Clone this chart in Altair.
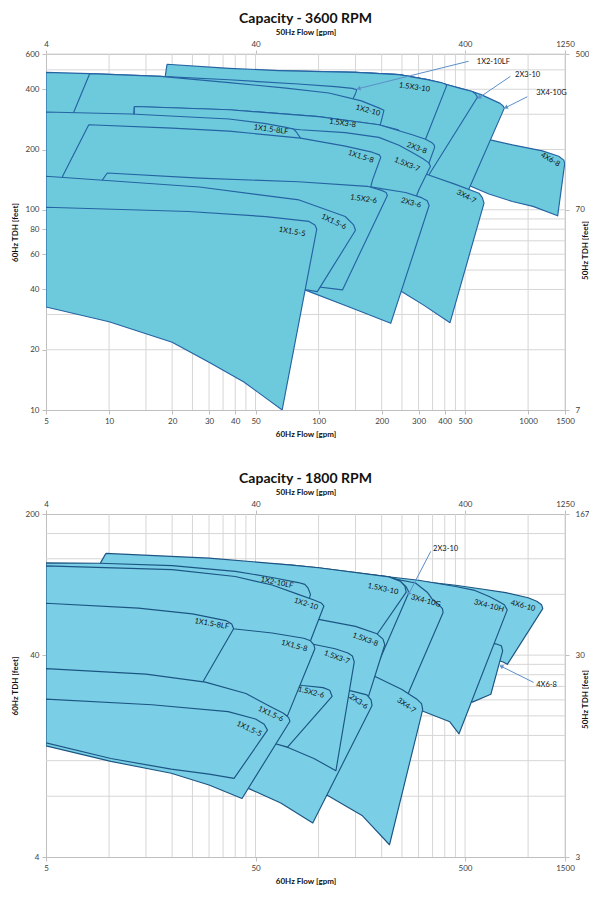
import altair as alt
import pandas as pd

# ---------------- axes, ticks and grid ----------------
X_DOMAIN = [5, 1500]
Y_DOMAIN_TOP = [10, 600]
Y_DOMAIN_BOT = [4, 200]

X_TICKS_TOP = [5, 10, 20, 30, 40, 50, 100, 200, 300, 400, 500, 1000, 1500]
X_TICKS_BOT = [5, 50, 500, 1500]
X2_TICK_POS = [5, 50, 500, 1500]
X2_TICK_LBL = ["4", "40", "400", "1250"]
Y_TICKS_TOP = [10, 20, 40, 60, 80, 100, 200, 400, 600]
Y_TICKS_BOT = [4, 40, 200]
Y2_TICK_POS_TOP = [10, 100, 600]
Y2_TICK_LBL_TOP = ["7", "70", "500"]
Y2_TICK_POS_BOT = [4, 40, 200]
Y2_TICK_LBL_BOT = ["3", "30", "167"]
XGRID = [10, 15, 20, 25, 30, 35, 40, 45, 50, 100, 150, 200, 250, 300, 350, 400, 450, 500, 1000, 1500]
YGRID_TOP = [20, 30, 40, 50, 60, 70, 80, 90, 100, 200, 300, 400, 500, 600]
YGRID_BOT = [8, 12, 16, 20, 24, 28, 32, 36, 40, 80, 120, 160]

# ---------------- 3600 RPM coverage areas (flow gpm, head ft) ----------------
T_4X6_8 = [(420, 240), (652, 224), (841, 211), (1170, 197), (1400, 185), (1480, 177), (1495, 170),
           (1384, 93.3), (1056, 104), (841, 110), (650, 120), (532, 131), (470, 145), (420, 160)]
T_3X4_10G = [(60, 490), (150, 486), (242, 473), (330, 447), (404, 424), (480, 403), (542, 390), (600, 375),
             (672, 355), (735, 340), (760, 330), (770, 322), (532, 133), (500, 115), (400, 120), (250, 140),
             (120, 190), (60, 215)]
T_2X3_10 = [(30, 500), (64.7, 496), (150, 486), (242, 473), (330, 447), (404, 424), (480, 403), (542, 390),
            (560, 380), (573, 365), (337, 150), (320, 135), (200, 160), (100, 190), (30, 220)]
T_3X4_7 = [(120, 192), (200, 176), (330, 150), (450, 134), (583, 121), (605, 115), (616, 108),
           (424, 27.3), (316, 33.5), (250, 39), (150, 47), (120, 50)]
T_1_5X3_10 = [(18.9, 533), (37.4, 509), (64.7, 496), (150, 486), (242, 473), (330, 447), (385, 432), (404, 424),
              (408, 418), (406, 410), (322, 222), (250, 240), (100, 280), (17.6, 320)]
T_1X2_10LF = [(5, 486), (8.09, 479), (17.6, 464), (37.4, 446), (80, 425), (120, 412), (145, 404), (152, 398),
              (151, 388), (149, 374), (140, 330), (60, 320), (20, 312), (5, 300)]
T_1X2_10 = [(8.09, 479), (17.6, 464), (37.4, 432), (70, 405), (112, 383), (160, 350), (195, 322), (205, 314),
            (198, 271), (190, 240), (100, 255), (30, 275), (6.68, 296)]
T_1_5X3_8 = [(13.2, 328), (37.4, 316), (100, 292), (194, 266), (240, 251), (245, 245), (210, 175), (100, 185),
             (30, 195), (12.7, 200)]
T_2X3_8 = [(13.2, 328), (37.4, 316), (100, 292), (194, 266), (280, 237), (324, 225), (348, 216), (356, 211),
           (358, 205), (332, 165), (300, 150), (200, 150), (100, 160), (13.2, 170)]
T_1_5X3_7 = [(40, 270), (82, 251), (134, 243), (194, 230), (242, 210), (280, 193), (315, 180), (335, 172),
             (342, 165), (301, 126), (230, 60), (150, 70), (80, 90), (40, 100)]
T_2X3_6 = [(30, 138), (100, 134), (171, 131), (260, 122), (310, 115), (330, 111), (337, 105), (221, 27.1),
           (140, 32.7), (86, 39.8), (50, 46), (30, 52)]
T_1X1_5_8LF = [(5, 308), (12.7, 301), (37.4, 284), (55, 270), (70, 258), (76, 253), (78, 246), (82, 228),
               (72, 150), (20, 148), (5, 140)]
T_1X1_5_8 = [(8, 266), (20, 256), (37.4, 247), (82, 228), (134, 208), (180, 194), (195, 188), (198, 183),
             (181, 141), (170, 110), (100, 100), (30, 110), (6, 120), (6, 147)]
T_1_5X2_6 = [(9.8, 152.6), (27, 144), (80, 138), (171, 131), (200, 125), (210, 122), (213, 118), (130, 39.8),
             (86, 42), (30, 55), (9.3, 65), (9.3, 141)]
T_1X1_5_6 = [(5, 147), (27, 130), (80.7, 112), (134, 92.6), (147, 84), (150, 79), (98.6, 39), (86, 40),
             (50, 46), (20, 55), (5, 62)]
T_1X1_5_5 = [(5, 103), (24, 98), (56, 92.5), (90, 87.5), (96, 84), (98, 80), (67, 10), (56.5, 11.4),
             (44, 13.8), (30, 17.3), (20, 21.8), (10, 27.6), (5, 32.7)]

TOP_REGIONS = [("4X6-8", T_4X6_8), ("3X4-10G", T_3X4_10G), ("2X3-10", T_2X3_10), ("3X4-7", T_3X4_7),
               ("1.5X3-10", T_1_5X3_10), ("1X2-10LF", T_1X2_10LF), ("1X2-10", T_1X2_10),
               ("1.5X3-8", T_1_5X3_8), ("2X3-8", T_2X3_8), ("1.5X3-7", T_1_5X3_7), ("2X3-6", T_2X3_6),
               ("1X1.5-8LF", T_1X1_5_8LF), ("1X1.5-8", T_1X1_5_8), ("1.5X2-6", T_1_5X2_6),
               ("1X1.5-6", T_1X1_5_6), ("1X1.5-5", T_1X1_5_5)]

TOP_LBL = ["1.5X3-10", "1X2-10", "1.5X3-8", "2X3-8", "1X1.5-8LF", "1X1.5-8", "1.5X3-7", "3X4-7", "4X6-8",
           "1.5X2-6", "2X3-6", "1X1.5-6", "1X1.5-5"]
TOP_LBL_FLOW = [287, 172, 130, 294, 59.3, 159, 264, 506, 1276, 164, 276, 118, 74.7]
TOP_LBL_HEAD = [408, 313, 270, 203, 251, 184, 168, 116, 178, 113, 108, 87, 77.6]
TOP_LBL_ANGLE = [8, 15, 8, 20, 8, 18, 22, 28, 30, 8, 15, 25, 10]

TOP_CALL = ["1X2-10LF", "2X3-10", "3X4-10G"]
TOP_CALL_TX_FLOW = [569, 867, 1093]
TOP_CALL_TX_HEAD = [549, 473, 383]
TOP_CALL_FROM_FLOW = [520, 823, 991]
TOP_CALL_FROM_HEAD = [552, 464, 367]
TOP_CALL_TIP_FLOW = [155, 583, 782]
TOP_CALL_TIP_HEAD = [403, 363, 324]
TOP_CALL_ANGLE = [256, 236, 244]

# ---------------- 1800 RPM coverage areas (flow gpm, head ft) ----------------
B_4X6_10 = [(300, 93), (451, 88.7), (600, 85), (782, 81.6), (1000, 77), (1100, 74), (1160, 71), (1175, 68),
            (796, 36), (760, 37), (600, 40), (400, 45), (300, 48)]
B_4X6_8 = [(300, 52), (500, 48), (700, 45.5), (745, 44.5), (756, 42), (664, 25.6), (542, 23.4), (400, 26),
           (300, 29)]
B_3X4_10H = [(150, 102), (300, 94), (451, 87.5), (550, 84), (652, 78), (720, 74), (770, 71), (795, 67),
             (468, 16.3), (423, 18.7), (300, 21.5), (200, 24), (150, 26)]
B_3X4_10G = [(120, 104), (217, 96.5), (290, 91), (330, 82), (348, 76), (375, 71), (390, 68), (393, 65),
             (275, 27.6), (260, 24), (200, 26), (120, 30)]
B_3X4_7 = [(90, 40), (150, 35), (184, 31.5), (250, 27), (296, 24.1), (310, 23), (314, 21.5), (218, 4.6),
           (162, 6.4), (110, 8.1), (90, 9)]
B_2X3_10 = [(30, 118), (72.5, 112), (100, 108.4), (217, 97.6), (245, 93), (262, 87), (270, 82), (165, 25.2),
            (120, 27), (50, 30), (30, 32)]
B_1_5X3_10 = [(9.66, 127.6), (30, 121), (72.5, 112), (100, 108.4), (217, 97.6), (245, 93), (258, 88),
              (262, 82), (190.6, 50.9), (175, 45), (100, 58), (30, 70), (9.1, 75), (9.1, 114.5)]
B_1_5X3_8 = [(30, 68), (100, 60.1), (150, 55.5), (190, 51), (203, 48), (207, 45), (172, 24.5), (120, 22),
             (60, 30), (30, 40)]
B_1X2_10LF = [(5, 114.5), (9, 114), (20, 111), (40, 104), (60, 97), (80, 91.5), (86, 89.6), (89, 86),
              (91.5, 80), (88, 70), (40, 75), (5, 78)]
B_1X2_10 = [(5, 110.6), (20, 106), (40, 98), (60, 89), (80, 80), (95, 75), (103, 72.5), (106, 70),
            (91.5, 47.1), (85, 40), (40, 50), (5, 55)]
B_2X3_6 = [(20, 33), (80, 29), (143, 26.6), (170, 25.4), (178, 24), (180, 22.5), (93.8, 5.9), (66, 7.4),
           (46.8, 8.7), (30, 10), (20, 11.2)]
B_1_5X3_7 = [(40, 52), (93, 45.4), (120, 43), (138, 41), (145, 39.6), (148, 37), (121, 10.7), (95, 12.3),
             (71, 14), (50, 16), (40, 17)]
B_1_5X2_6 = [(20, 33), (60, 30), (84, 28.3), (105, 27.6), (113, 26.8), (116, 25), (71.1, 14), (50, 15.5),
             (20, 17)]
B_1X1_5_8 = [(5, 69), (20, 63), (36, 57), (39, 54), (60, 51.5), (85, 48.5), (91.5, 47.1), (95, 45), (96, 43),
             (71, 20), (50, 22), (5, 26)]
B_1X1_5_8LF = [(5, 72.3), (13.8, 68.4), (25, 64), (36.1, 59.3), (38.5, 57), (39.3, 54), (27.4, 28.3),
               (25, 25), (5, 28)]
B_1X1_5_6 = [(5, 34.3), (15, 32.2), (28.8, 29.4), (45, 25.8), (60, 22), (68, 20.6), (72, 19.6), (73, 18.8),
             (43.1, 7.8), (30, 9.1), (19.8, 10.4), (10.2, 11.9), (5, 14.2)]
B_1X1_5_5 = [(5, 24.2), (16, 22.7), (37, 21), (50, 19.3), (55, 18.2), (57, 17), (39.5, 9.8), (30, 10.3),
             (19.8, 10.9), (10.2, 12.3), (5, 14.7)]

BOT_REGIONS = [("4X6-10", B_4X6_10), ("4X6-8", B_4X6_8), ("3X4-10H", B_3X4_10H), ("3X4-10G", B_3X4_10G),
               ("3X4-7", B_3X4_7), ("2X3-10", B_2X3_10), ("1.5X3-10", B_1_5X3_10), ("1.5X3-8", B_1_5X3_8),
               ("1X2-10LF", B_1X2_10LF), ("1X2-10", B_1X2_10), ("2X3-6", B_2X3_6), ("1.5X3-7", B_1_5X3_7),
               ("1.5X2-6", B_1_5X2_6), ("1X1.5-8", B_1X1_5_8), ("1X1.5-8LF", B_1X1_5_8LF),
               ("1X1.5-6", B_1X1_5_6), ("1X1.5-5", B_1X1_5_5)]

BOT_LBL = ["1X2-10LF", "1X2-10", "1X1.5-8LF", "1X1.5-8", "1X1.5-6", "1X1.5-5", "1.5X2-6", "2X3-6", "3X4-7",
           "1.5X3-7", "1.5X3-8", "1.5X3-10", "3X4-10G", "3X4-10H", "4X6-10"]
BOT_LBL_FLOW = [63.3, 87, 30.9, 76.5, 59, 46.6, 92, 155, 262, 122, 167, 203, 325, 650, 945]
BOT_LBL_HEAD = [91.3, 71.5, 57, 44.4, 20.4, 17.2, 26.1, 23.5, 22.5, 38.9, 47.7, 84.9, 74.1, 70, 70]
BOT_LBL_ANGLE = [12, 18, 10, 15, 25, 25, 15, 35, 35, 20, 20, 12, 15, 15, 15]

BOT_CALL = ["2X3-10", "4X6-8"]
BOT_CALL_TX_FLOW = [352, 1093]
BOT_CALL_TX_HEAD = [133.9, 28.3]
BOT_CALL_FROM_FLOW = [343, 1062]
BOT_CALL_FROM_HEAD = [130.6, 29.3]
BOT_CALL_TIP_FLOW = [269, 744]
BOT_CALL_TIP_HEAD = [80.3, 35.2]
BOT_CALL_ANGLE = [205, 298]

# ---------------- style ----------------
FONT = "Lato"
GRID = "#D6D6D6"
AXIS_GRAY = "#BFBFBF"
ARROW = "#5B8FC9"
TEXT = "#111111"


def label_expr(pos, lbl):
    e = "''"
    for p, l in reversed(list(zip(pos, lbl))):
        e = f"round(datum.value) == {p} ? '{l}' : ({e})"
    return e


def axis(**kw):
    base = dict(labelFont=FONT, labelFontSize=8, labelColor="#404040", titleFont=FONT, titleFontSize=8,
                titleFontWeight="bold", titleColor=TEXT, domainColor=AXIS_GRAY, tickColor=AXIS_GRAY,
                tickSize=4, grid=False, labelFlush=False, labelOverlap=False)
    base.update(kw)
    return alt.Axis(**base)


def panel(title, ydom, xticks, yticks, y2pos, y2lbl, ygrid, regions, lbls, lflow, lhead, lang,
          calls, ctxf, ctxh, cff, cfh, ctf, cth, cang, fill, stroke, height, rtitle_y):
    xs = alt.Scale(type="log", domain=X_DOMAIN, nice=False)
    ys = alt.Scale(type="log", domain=ydom, nice=False)

    vgrid = alt.Chart(pd.DataFrame({"v": XGRID})).mark_rule(color=GRID, strokeWidth=1).encode(
        x=alt.X("v:Q", scale=xs, axis=axis(orient="bottom", values=xticks, format="d",
                                           title="60Hz Flow [gpm]", labelPadding=3, titlePadding=5)))
    hgrid = alt.Chart(pd.DataFrame({"v": ygrid})).mark_rule(color=GRID, strokeWidth=1).encode(
        y=alt.Y("v:Q", scale=ys, axis=axis(orient="left", values=yticks, format="d",
                                           title="60Hz TDH [feet]", labelPadding=3, titlePadding=6)))
    layers = [vgrid, hgrid]

    for name, pts in regions:
        closed = pts + [pts[0]]
        df = pd.DataFrame({"flow": [p[0] for p in closed], "head": [p[1] for p in closed],
                           "i": list(range(len(closed))), "region": name})
        layers.append(
            alt.Chart(df).mark_line(fill=fill, stroke=stroke, strokeWidth=1.15, clip=True,
                                    strokeJoin="round", interpolate="linear").encode(
                x=alt.X("flow:Q", scale=xs, axis=None),
                y=alt.Y("head:Q", scale=ys, axis=None),
                order="i:Q"))

    ldf = pd.DataFrame({"t": lbls, "flow": lflow, "head": lhead, "a": lang})
    layers.append(alt.Chart(ldf).mark_text(font=FONT, fontSize=7.5, color=TEXT).encode(
        x=alt.X("flow:Q", scale=xs, axis=None), y=alt.Y("head:Q", scale=ys, axis=None),
        text="t:N", angle=alt.Angle("a:Q", scale=None)))

    for k in range(len(calls)):
        seg = pd.DataFrame({"flow": [cff[k], ctf[k]], "head": [cfh[k], cth[k]], "i": [0, 1]})
        layers.append(alt.Chart(seg).mark_line(color=ARROW, strokeWidth=1).encode(
            x=alt.X("flow:Q", scale=xs, axis=None), y=alt.Y("head:Q", scale=ys, axis=None), order="i:Q"))
    heads = pd.DataFrame({"flow": ctf, "head": cth, "a": cang})
    layers.append(alt.Chart(heads).mark_point(shape="triangle-up", filled=True, size=22, color=ARROW,
                                              opacity=1).encode(
        x=alt.X("flow:Q", scale=xs, axis=None), y=alt.Y("head:Q", scale=ys, axis=None),
        angle=alt.Angle("a:Q", scale=None)))
    cdf = pd.DataFrame({"t": calls, "flow": ctxf, "head": ctxh})
    layers.append(alt.Chart(cdf).mark_text(font=FONT, fontSize=7.5, color=TEXT, align="left").encode(
        x=alt.X("flow:Q", scale=xs, axis=None), y=alt.Y("head:Q", scale=ys, axis=None), text="t:N"))

    dummy = alt.Chart(pd.DataFrame({"x": [X_DOMAIN[0]], "y": [ydom[0]]})).mark_point(opacity=0).encode(
        x=alt.X("x:Q", scale=xs, axis=axis(orient="top", values=X2_TICK_POS,
                                           labelExpr=label_expr(X2_TICK_POS, X2_TICK_LBL),
                                           title="50Hz Flow [gpm]", labelPadding=2, titlePadding=4)),
        y=alt.Y("y:Q", scale=ys, axis=axis(orient="right", values=y2pos,
                                           labelExpr=label_expr(y2pos, y2lbl),
                                           title="50Hz TDH [feet]", titleAngle=270, titleBaseline="middle",
                                           titleAlign="center", titleX=20, titleY=rtitle_y,
                                           labelPadding=6)))
    layers.append(dummy)

    return alt.layer(*layers).resolve_axis(x="independent", y="independent").properties(
        width=519, height=height,
        title=alt.TitleParams(title, font=FONT, fontSize=14, fontWeight="bold", color=TEXT, offset=2))


top = panel("Capacity - 3600 RPM", Y_DOMAIN_TOP, X_TICKS_TOP, Y_TICKS_TOP, Y2_TICK_POS_TOP, Y2_TICK_LBL_TOP,
            YGRID_TOP, TOP_REGIONS, TOP_LBL, TOP_LBL_FLOW, TOP_LBL_HEAD, TOP_LBL_ANGLE,
            TOP_CALL, TOP_CALL_TX_FLOW, TOP_CALL_TX_HEAD, TOP_CALL_FROM_FLOW, TOP_CALL_FROM_HEAD,
            TOP_CALL_TIP_FLOW, TOP_CALL_TIP_HEAD, TOP_CALL_ANGLE, "#6DCADC", "#2563A3", 356, 196)
bot = panel("Capacity - 1800 RPM", Y_DOMAIN_BOT, X_TICKS_BOT, Y_TICKS_BOT, Y2_TICK_POS_BOT, Y2_TICK_LBL_BOT,
            YGRID_BOT, BOT_REGIONS, BOT_LBL, BOT_LBL_FLOW, BOT_LBL_HEAD, BOT_LBL_ANGLE,
            BOT_CALL, BOT_CALL_TX_FLOW, BOT_CALL_TX_HEAD, BOT_CALL_FROM_FLOW, BOT_CALL_FROM_HEAD,
            BOT_CALL_TIP_FLOW, BOT_CALL_TIP_HEAD, BOT_CALL_ANGLE, "#7ACFE6", "#1C5583", 343, 185)

chart = alt.vconcat(top, bot, spacing=34).properties(
    padding={"left": 3, "top": 4, "right": 0, "bottom": 0}
).configure_view(stroke=None)

chart.save("out.html", embed_options={"renderer": "svg", "actions": False})
